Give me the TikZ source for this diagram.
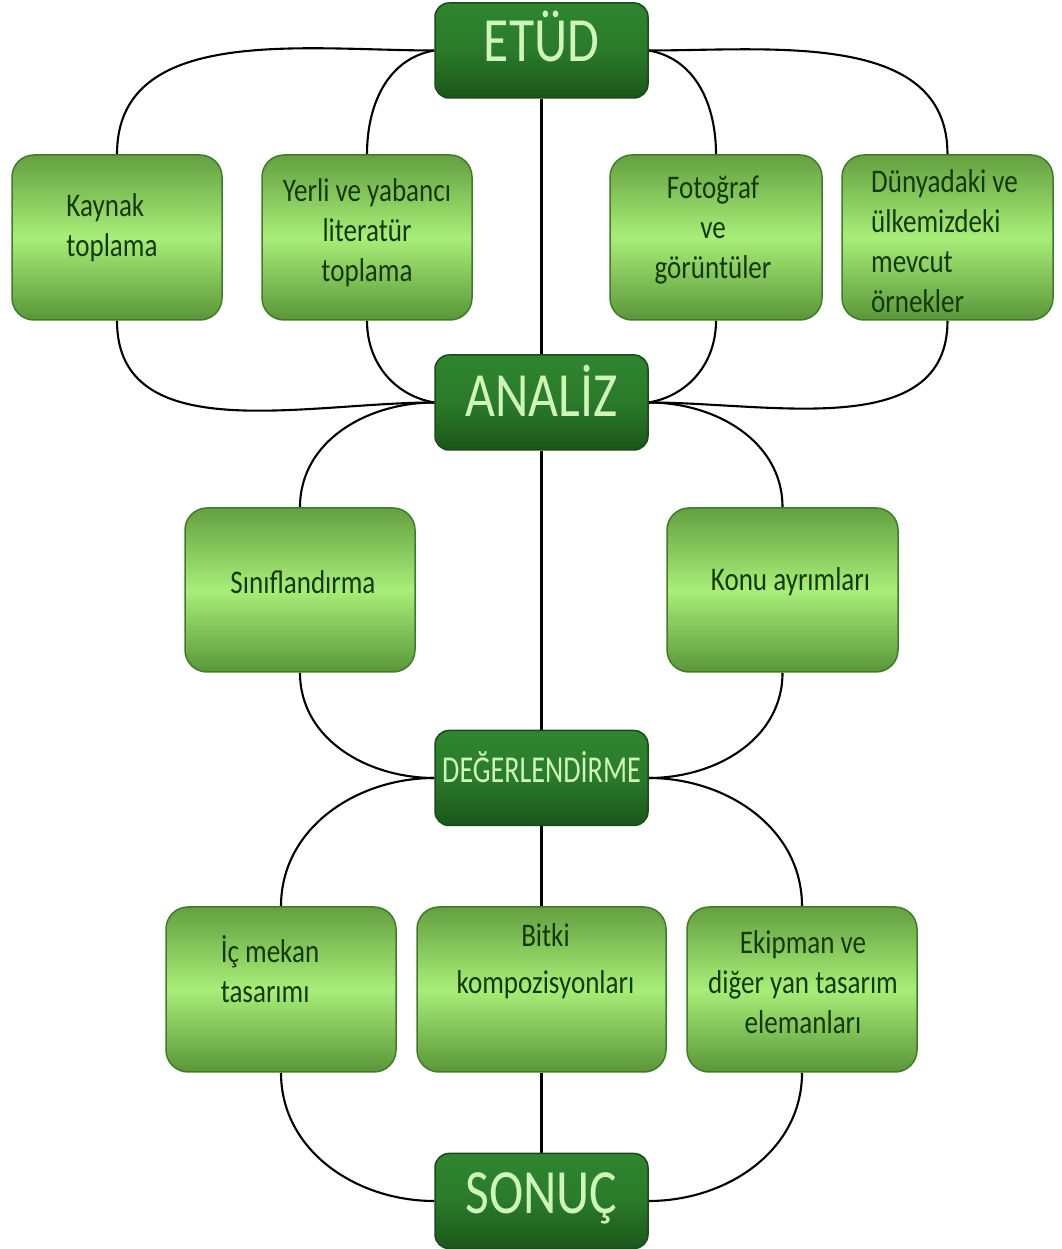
\documentclass[tikz,border=0pt]{standalone}
\usepackage{fontspec}
\setmainfont{Carlito}[FakeStretch=0.82]
\newfontfamily\degfont{Carlito}[FakeStretch=0.74]
\usetikzlibrary{backgrounds}
\definecolor{mainfill}{HTML}{2A7A2A}
\definecolor{maintop}{HTML}{2F862F}
\definecolor{mainbot}{HTML}{1B561B}
\definecolor{mainedge}{HTML}{1A4A1A}
\definecolor{maintext}{HTML}{CDF5BC}
\definecolor{subtop}{HTML}{64A040}
\definecolor{submid}{HTML}{A8EE78}
\definecolor{subbot}{HTML}{5A9638}
\definecolor{subedge}{HTML}{3E7C2A}
\definecolor{subtext}{HTML}{143A0A}
\tikzset{
  mainbox/.style={draw=mainedge, line width=1.5pt, rounded corners=14pt,
    top color=maintop, bottom color=mainbot, middle color=mainfill,
    minimum width=213pt, minimum height=95pt, inner sep=0pt},
  maintxt/.style={text=maintext, font=\fontsize{63}{70}\selectfont, inner sep=0pt, anchor=base},
  subbox/.style={draw=subedge, line width=1.5pt, rounded corners=22pt,
    top color=subtop, bottom color=subbot, middle color=submid,
    minimum height=165pt, inner sep=0pt},
  subtxt/.style={text=subtext, font=\fontsize{33}{40}\selectfont, inner sep=0pt},
  link/.style={line width=2.1pt, black},
}
\begin{document}
\begin{tikzpicture}[x=1pt,y=1pt]
\useasboundingbox (0,0) rectangle (1061,1249);
% main stages
\node[mainbox] (etud) at (541.5,1198.5) {};
\node[maintxt] (etudt) at ([yshift=-11.5pt]etud.center) {ETÜD};
\node[mainbox] (analiz) at (541.5,846.5) {};
\node[maintxt] (analizt) at ([yshift=-14.5pt]analiz.center) {ANALİZ};
\node[mainbox] (deger) at (541.5,471) {};
\node[maintxt, font=\degfont\fontsize{38}{42}\selectfont] (degert) at ([yshift=-5pt]deger.center) {DEĞERLENDİRME};
\node[mainbox] (sonuc) at (541.5,48) {};
\node[maintxt] (sonuct) at ([yshift=-13pt]sonuc.center) {SONUÇ};
% row 1
\node[subbox, minimum width=210pt] (kaynak) at (117,1011.5) {};
\node[subtxt, align=left] (kaynakt) at ([xshift=-5pt,yshift=9.5pt]kaynak.center) {Kaynak\\toplama};
\node[subbox, minimum width=210pt] (yerli) at (367,1011.5) {};
\node[subtxt, align=center] (yerlit) at ([yshift=5pt]yerli.center) {Yerli ve yabancı\\literatür\\toplama};
\node[subbox, minimum width=212pt] (foto) at (716,1011.5) {};
\node[subtxt, align=center] (fotot) at ([xshift=-3pt,yshift=7.5pt]foto.center) {Fotoğraf\\ve\\görüntüler};
\node[subbox, minimum width=211pt] (dunya) at (947.5,1011.5) {};
\node[subtxt, align=left] (dunyat) at ([xshift=-3pt,yshift=-3.5pt]dunya.center) {Dünyadaki ve\\ülkemizdeki\\mevcut\\örnekler};
% row 2
\node[subbox, minimum width=230pt, minimum height=164pt] (sinif) at (300,659) {};
\node[subtxt] (sinift) at ([xshift=3pt,yshift=8pt]sinif.center) {Sınıflandırma};
\node[subbox, minimum width=231pt, minimum height=164pt] (konu) at (782.5,659) {};
\node[subtxt] (konut) at ([xshift=8pt,yshift=8pt]konu.center) {Konu ayrımları};
% row 3
\node[subbox, minimum width=230pt] (icmekan) at (281,259.5) {};
\node[subtxt, align=left] (icmekant) at ([xshift=-11pt,yshift=20.5pt]icmekan.center) {İç mekan\\tasarımı};
\node[subbox, minimum width=249pt] (bitki) at (541.5,259.5) {};
\node[subtxt, align=center] (bitkit) at ([xshift=4pt,yshift=28pt]bitki.center) {Bitki\\[7pt]kompozisyonları};
\node[subbox, minimum width=230pt] (ekip) at (802,259.5) {};
\node[subtxt, align=center] (ekipt) at ([xshift=1pt,yshift=7.5pt]ekip.center) {Ekipman ve\\diğer yan tasarım\\elemanları};
% connectors
\begin{pgfonlayer}{background}
\draw[link] (etud.south) -- (analiz.north);
\draw[link] (analiz.south) -- (deger.north);
\draw[link] (deger.south) -- (bitki.north);
\draw[link] (bitki.south) -- (sonuc.north);
\draw[link] (etud.west) to[out=180,in=90] (kaynak.north);
\draw[link] (etud.west) to[out=190,in=90] (yerli.north);
\draw[link] (etud.east) to[out=-10,in=90] (foto.north);
\draw[link] (etud.east) to[out=0,in=90] (dunya.north);
\draw[link] (kaynak.south) to[out=-90,in=180] (analiz.west);
\draw[link] (yerli.south) to[out=-90,in=170] (analiz.west);
\draw[link] (foto.south) to[out=-90,in=10] (analiz.east);
\draw[link] (dunya.south) to[out=-90,in=0] (analiz.east);
\draw[link] (analiz.west) to[out=180,in=90] (sinif.north);
\draw[link] (analiz.east) to[out=0,in=90] (konu.north);
\draw[link] (sinif.south) to[out=-90,in=180] (deger.west);
\draw[link] (konu.south) to[out=-90,in=0] (deger.east);
\draw[link] (deger.west) to[out=180,in=90] (icmekan.north);
\draw[link] (deger.east) to[out=0,in=90] (ekip.north);
\draw[link] (icmekan.south) to[out=-90,in=180] (sonuc.west);
\draw[link] (ekip.south) to[out=-90,in=0] (sonuc.east);
\end{pgfonlayer}
\end{tikzpicture}
\end{document}
